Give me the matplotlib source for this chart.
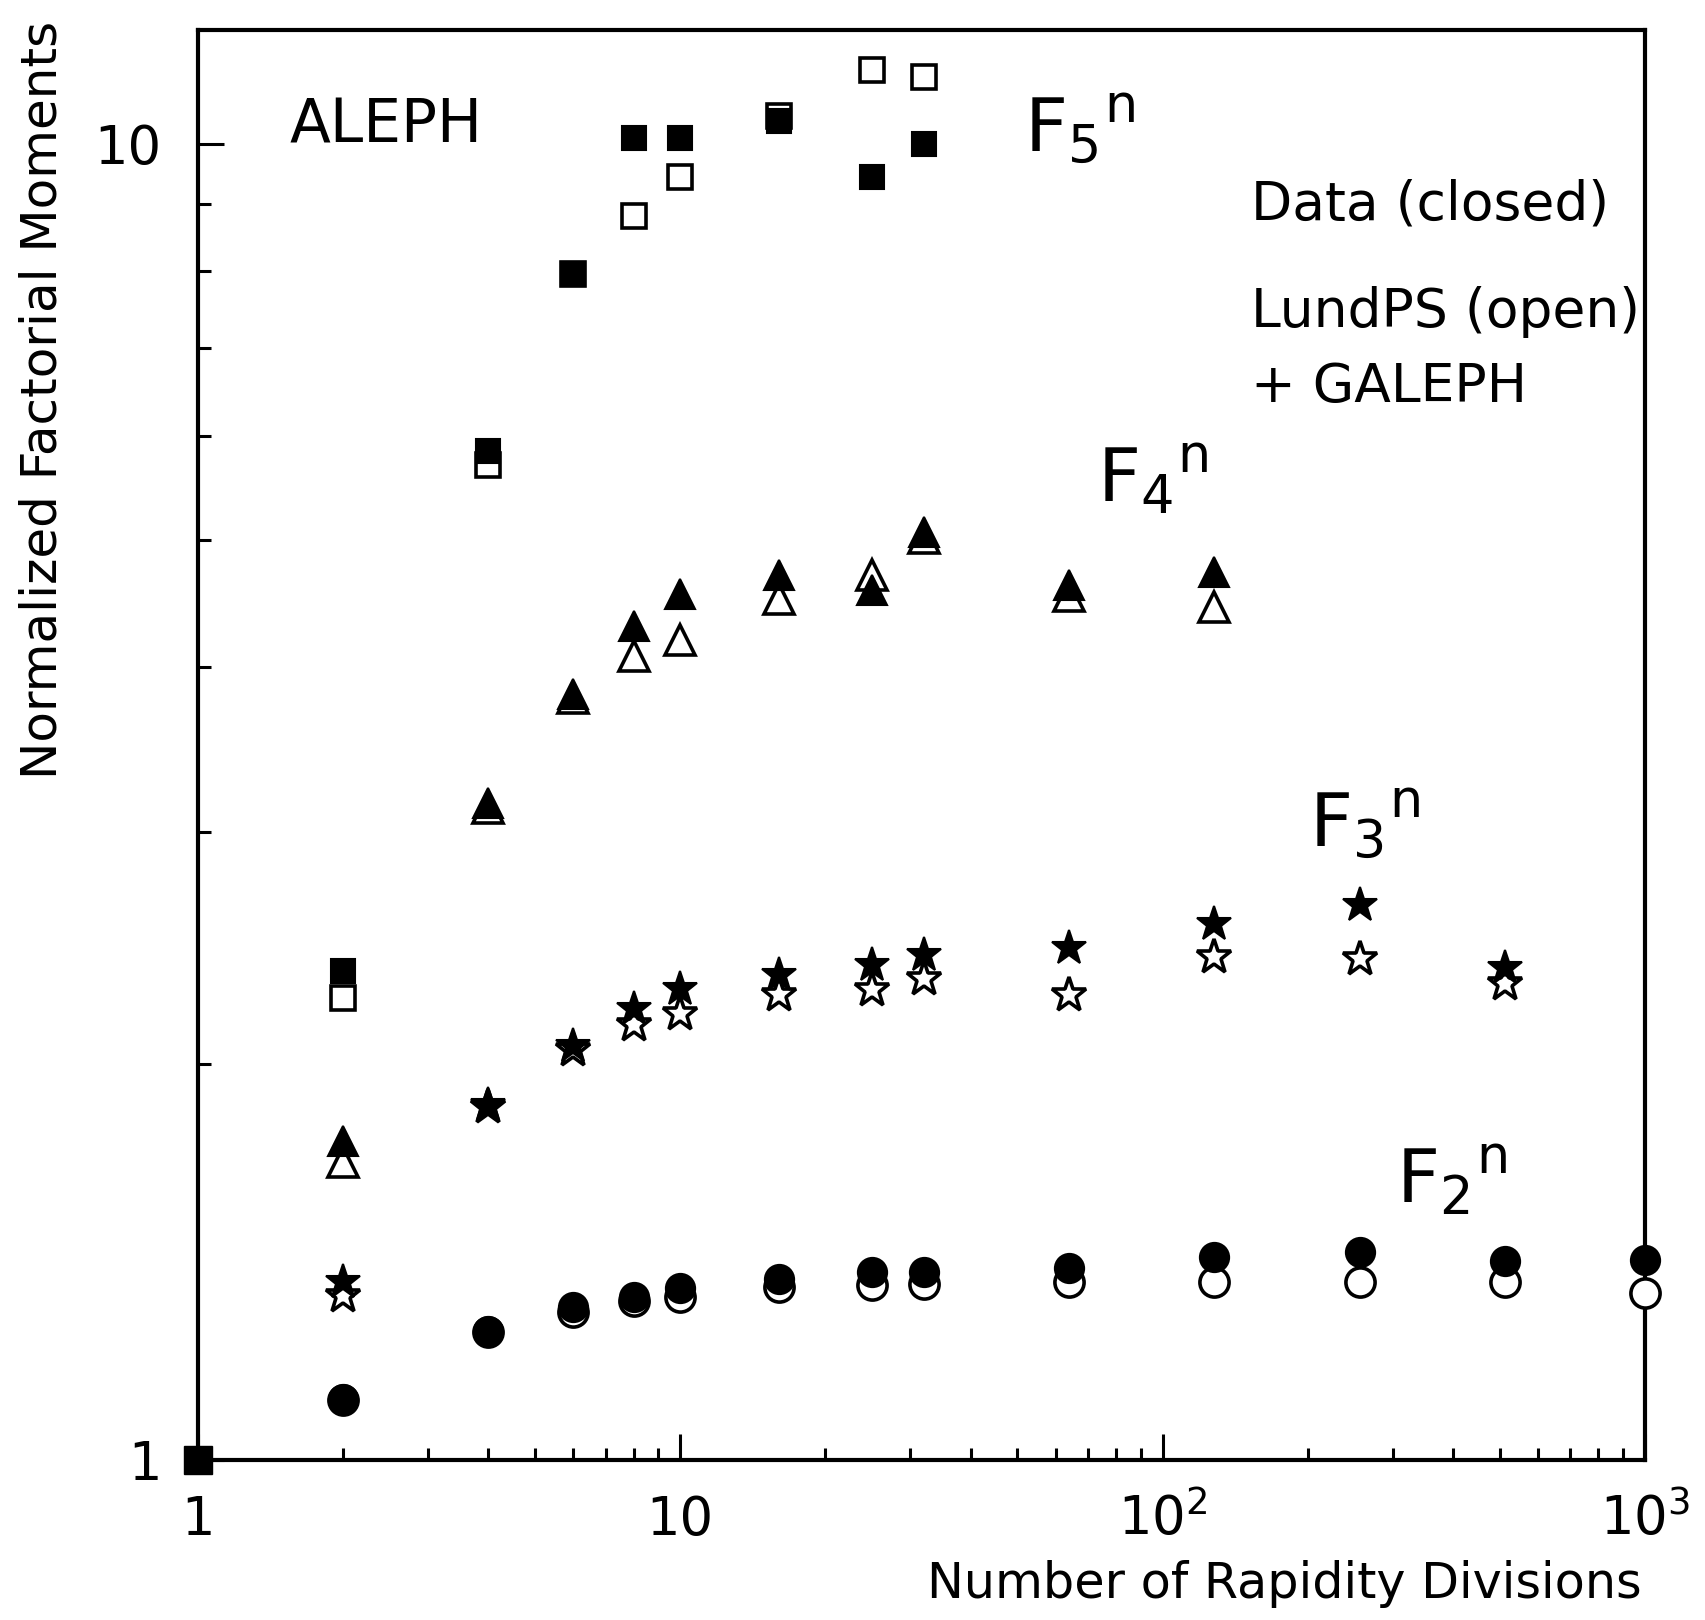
import matplotlib
matplotlib.use("Agg")
import matplotlib.pyplot as plt
from matplotlib.ticker import FixedLocator, FixedFormatter, NullFormatter

# number of rapidity divisions for each moment
divs_f2 = [2, 4, 6, 8, 10, 16, 25, 32, 64, 128, 256, 512, 1000]
divs_f3 = [2, 4, 6, 8, 10, 16, 25, 32, 64, 128, 256, 512]
divs_f4 = [2, 4, 6, 8, 10, 16, 25, 32, 64, 128]
divs_f5 = [2, 4, 6, 8, 10, 16, 25, 32]

# Data (closed symbols)
f2_data = [1.113, 1.253, 1.307, 1.33, 1.35, 1.372, 1.39, 1.39, 1.398, 1.425, 1.439, 1.417, 1.419]
f3_data = [1.366, 1.862, 2.062, 2.20, 2.278, 2.335, 2.375, 2.42, 2.449, 2.555, 2.64, 2.366]
f4_data = [1.748, 3.154, 3.818, 4.30, 4.55, 4.70, 4.58, 5.07, 4.62, 4.73]
f5_data = [2.353, 5.84, 7.96, 10.1, 10.1, 10.41, 9.44, 10.0]

# LundPS + GALEPH (open symbols)
f2_lund = [1.11, 1.25, 1.295, 1.32, 1.33, 1.353, 1.358, 1.36, 1.364, 1.364, 1.366, 1.366, 1.338]
f3_lund = [1.332, 1.855, 2.05, 2.14, 2.18, 2.256, 2.276, 2.32, 2.256, 2.41, 2.40, 2.30]
f4_lund = [1.683, 3.13, 3.79, 4.08, 4.20, 4.51, 4.70, 5.02, 4.53, 4.45]
f5_lund = [2.243, 5.70, 7.96, 8.81, 9.43, 10.5, 11.37, 11.23]

# every moment equals 1 for a single division
origin_x = [1]
origin_y = [1.0]

x_ticks = [1, 10, 100, 1000]
x_ticklabels = ["1", "10", r"$\mathregular{10^2}$", r"$\mathregular{10^3}$"]
y_ticks = [1, 10]
y_ticklabels = ["1", "10"]

plt.rcParams["font.family"] = "DejaVu Sans"
plt.rcParams["mathtext.default"] = "regular"

fig = plt.figure(figsize=(17.05, 16.2), dpi=100)
ax = fig.add_axes([0.1161, 0.0988, 0.8487, 0.8827])

series = [
    (divs_f2, f2_data, f2_lund, "o", 21),
    (divs_f3, f3_data, f3_lund, "*", 26),
    (divs_f4, f4_data, f4_lund, "^", 22),
    (divs_f5, f5_data, f5_lund, "s", 17),
]
for xs, closed, opened, mk, ms in series:
    ax.plot(xs, opened, linestyle="none", marker=mk, markersize=ms,
            markerfacecolor="white", markeredgecolor="black",
            markeredgewidth=2.6, clip_on=False, zorder=3)
    ax.plot(xs, closed, linestyle="none", marker=mk, markersize=ms,
            markerfacecolor="black", markeredgecolor="black",
            markeredgewidth=1.5, clip_on=False, zorder=4)

ax.plot(origin_x, origin_y, linestyle="none", marker="s", markersize=20,
        color="black", clip_on=False, zorder=5)

ax.set_xscale("log")
ax.set_yscale("log")
ax.set_xlim(1, 1000)
ax.set_ylim(1, 12.2)

ax.xaxis.set_major_locator(FixedLocator(x_ticks))
ax.xaxis.set_major_formatter(FixedFormatter(x_ticklabels))
ax.yaxis.set_major_locator(FixedLocator(y_ticks))
ax.yaxis.set_major_formatter(FixedFormatter(y_ticklabels))
ax.xaxis.set_minor_formatter(NullFormatter())
ax.yaxis.set_minor_formatter(NullFormatter())

ax.tick_params(which="both", direction="in", top=False, right=False, width=2.2)
ax.tick_params(which="major", length=19)
ax.tick_params(which="minor", length=9)
ax.tick_params(axis="x", which="major", pad=54, labelsize=38)
ax.tick_params(axis="y", which="major", pad=26, labelsize=38)
for lbl in ax.get_xticklabels():
    lbl.set_va("baseline")

for sp in ax.spines.values():
    sp.set_linewidth(3)

# annotations
ax.text(0.063, 0.933, "ALEPH", transform=ax.transAxes, fontsize=43,
        va="center", ha="left")
ax.text(0.728, 0.878, "Data (closed)", transform=ax.transAxes, fontsize=38.5,
        va="center", ha="left")
ax.text(0.728, 0.803, "LundPS (open)", transform=ax.transAxes, fontsize=38.5,
        va="center", ha="left")
ax.text(0.728, 0.750, "+ GALEPH", transform=ax.transAxes, fontsize=38.5,
        va="center", ha="left")

moment_labels = [
    (r"F$_5$$^n$", 0.571, 0.93),
    (r"F$_4$$^n$", 0.621, 0.685),
    (r"F$_3$$^n$", 0.768, 0.444),
    (r"F$_2$$^n$", 0.828, 0.195),
]
for txt, xa, ya in moment_labels:
    ax.text(xa, ya, txt, transform=ax.transAxes, fontsize=54,
            va="center", ha="left")

fig.text(0.025, 0.753, "Normalized Factorial Moments", rotation=90,
         fontsize=36, va="center", ha="center")
fig.text(0.963, 0.022, "Number of Rapidity Divisions", fontsize=35.5,
         va="center", ha="right")

fig.savefig("out.png", dpi=100)
